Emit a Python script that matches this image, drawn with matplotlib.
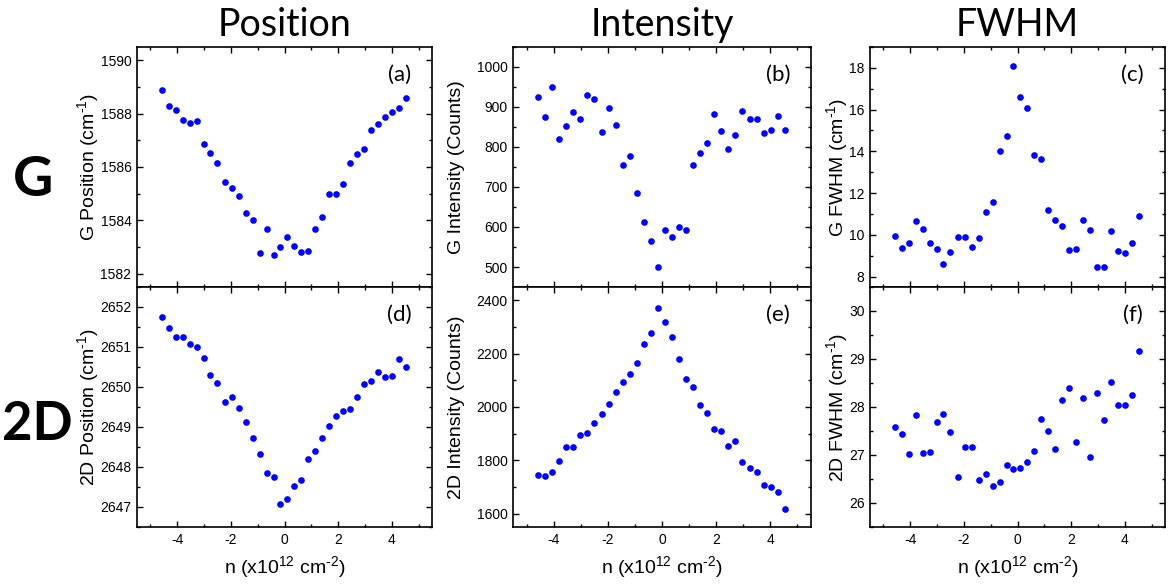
import matplotlib
matplotlib.use("Agg")
import matplotlib.pyplot as plt
from matplotlib.ticker import MultipleLocator

# =========================
# DATA
# =========================
n = [-4.58, -4.32, -4.06, -3.80, -3.54, -3.28, -3.02, -2.76, -2.50, -2.23,
     -1.97, -1.71, -1.45, -1.19, -0.93, -0.67, -0.41, -0.15, 0.11, 0.37,
     0.63, 0.89, 1.15, 1.41, 1.67, 1.93, 2.19, 2.45, 2.71, 2.97,
     3.23, 3.49, 3.75, 4.02, 4.28, 4.54]

g_pos = [1588.90, 1588.30, 1588.13, 1587.78, 1587.65, 1587.72, 1586.87, 1586.53,
         1586.14, 1585.43, 1585.21, 1584.92, 1584.27, 1584.00, 1582.78, 1583.66,
         1582.70, 1583.01, 1583.39, 1583.04, 1582.80, 1582.84, 1583.67, 1584.14,
         1584.97, 1584.98, 1585.37, 1586.14, 1586.48, 1586.66, 1587.39, 1587.63,
         1587.88, 1588.07, 1588.20, 1588.58]

g_int = [924, 874, 949, 819, 853, 888, 870, 930, 921, 837, 897, 854,
         756, 777, 685, 613, 565, 499, 592, 576, 600, 593, 755, 786,
         811, 882, 840, 794, 830, 891, 869, 870, 834, 842, 878, 842]

g_fwhm = [9.94, 9.36, 9.60, 10.68, 10.28, 9.63, 9.33, 8.62, 9.19, 9.88, 9.88, 9.44,
          9.84, 11.09, 11.56, 14.04, 14.73, 18.11, 16.62, 16.08, 13.83, 13.63,
          11.21, 10.72, 10.40, 9.25, 9.33, 10.72, 10.24, 8.46, 8.45, 10.16,
          9.22, 9.12, 9.62, 10.88]

d_pos = [2651.75, 2651.48, 2651.26, 2651.26, 2651.08, 2650.99, 2650.73, 2650.30,
         2650.10, 2649.63, 2649.74, 2649.47, 2649.12, 2648.72, 2648.32, 2647.84,
         2647.74, 2647.07, 2647.19, 2647.52, 2647.68, 2648.20, 2648.39, 2648.73,
         2649.02, 2649.27, 2649.40, 2649.44, 2649.76, 2650.08, 2650.15, 2650.38,
         2650.24, 2650.28, 2650.69, 2650.51]

d_int = [1745, 1740, 1756, 1796, 1849, 1849, 1895, 1904, 1940, 1975, 2012, 2057,
         2095, 2124, 2166, 2236, 2279, 2371, 2317, 2262, 2180, 2106, 2076, 2007,
         1979, 1919, 1909, 1853, 1872, 1795, 1770, 1755, 1706, 1700, 1681, 1617]

d_fwhm = [27.58, 27.43, 27.03, 27.84, 27.05, 27.06, 27.69, 27.86, 27.47, 26.54,
          27.16, 27.16, 26.47, 26.60, 26.36, 26.44, 26.79, 26.70, 26.73, 26.86,
          27.08, 27.75, 27.51, 27.12, 28.14, 28.39, 27.27, 28.19, 26.95, 28.30,
          27.72, 28.53, 28.04, 28.04, 28.25, 29.17]

col_titles = ["Position", "Intensity", "FWHM"]
row_titles = ["G", "2D"]
panel_tags = ["(a)", "(b)", "(c)", "(d)", "(e)", "(f)"]
y_labels = [r"G Position (cm$^{\text{-1}}$)", "G Intensity (Counts)",
            r"G FWHM (cm$^{\text{-1}}$)", r"2D Position (cm$^{\text{-1}}$)",
            "2D Intensity (Counts)", r"2D FWHM (cm$^{\text{-1}}$)"]
x_label = r"n (x10$^{\text{12}}$ cm$^{\text{-2}}$)"

# =========================
# STYLE
# =========================
plt.rcParams["font.family"] = ["Liberation Sans", "DejaVu Sans"]
plt.rcParams["axes.unicode_minus"] = False
plt.rcParams["mathtext.fontset"] = "custom"
plt.rcParams["mathtext.rm"] = "Liberation Sans"
plt.rcParams["mathtext.it"] = "Liberation Sans"

series = [g_pos, g_int, g_fwhm, d_pos, d_int, d_fwhm]
ylims = [(1581.5, 1590.5), (450, 1050), (7.5, 19),
         (2646.5, 2652.5), (1550, 2450), (25.5, 30.5)]
ymajor = [2, 100, 2, 1, 200, 1]

W, H = 1172, 586
fig = plt.figure(figsize=(W / 100, H / 100), dpi=100)

cols_px = [(137, 432), (513, 811), (870, 1165)]
rows_px = [(47, 287), (287, 527)]
ylab_x = [-0.166, -0.188, -0.112]

# =========================
# PANELS
# =========================
axes = []
for r, (top, bot) in enumerate(rows_px):
    for c, (lft, rgt) in enumerate(cols_px):
        i = r * 3 + c
        ax = fig.add_axes([lft / W, 1 - bot / H, (rgt - lft) / W, (bot - top) / H])
        ax.plot(n, series[i], "o", color="#0000FF", ms=4.8, mec="none")
        ax.set_xlim(-5.5, 5.5)
        ax.set_ylim(*ylims[i])
        ax.xaxis.set_major_locator(MultipleLocator(2))
        ax.xaxis.set_minor_locator(MultipleLocator(1))
        ax.yaxis.set_major_locator(MultipleLocator(ymajor[i]))
        ax.yaxis.set_minor_locator(MultipleLocator(ymajor[i] / 2))
        ax.tick_params(which="both", direction="in", top=True, right=True,
                       width=1, labelsize=10, pad=4)
        ax.tick_params(which="major", length=4)
        ax.tick_params(which="minor", length=2.5)
        for s in ax.spines.values():
            s.set_linewidth(1.2)
        ax.set_ylabel(y_labels[i], fontsize=14, va="center")
        ax.yaxis.set_label_coords(ylab_x[c], 0.5)
        ax.text(0.89, 0.885, panel_tags[i], transform=ax.transAxes,
                ha="center", va="center", fontsize=16, family="Lato")
        if r == 0:
            ax.tick_params(labelbottom=False)
            ax.set_title(col_titles[c], fontsize=27, family="Lato", pad=8)
        else:
            ax.set_xlabel(x_label, fontsize=14, va="center")
            ax.xaxis.set_label_coords(0.5, -0.167)
        axes.append(ax)

# =========================
# ROW LABELS
# =========================
fig.text(33 / W, 1 - 180 / H, row_titles[0], fontsize=40, fontweight="bold",
         family="Lato", ha="center", va="center")
fig.text(37 / W, 1 - 425 / H, row_titles[1], fontsize=38, fontweight="bold",
         family="Lato", ha="center", va="center")

fig.savefig("out.png", dpi=100)
